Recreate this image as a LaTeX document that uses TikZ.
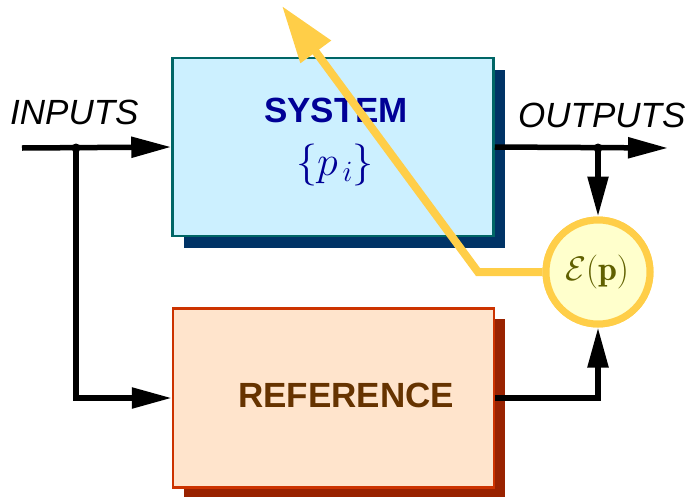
\RequirePackage{fix-cm}
\documentclass[tikz,border=0pt]{standalone}
\usepackage{fontspec}
\newfontfamily\arial{Liberation Sans}
\usetikzlibrary{arrows.meta,shadows}
\definecolor{sysfill}{RGB}{204,240,255}
\definecolor{sysborder}{RGB}{0,102,102}
\definecolor{sysshadow}{RGB}{0,51,102}
\definecolor{systext}{RGB}{0,0,150}
\definecolor{reffill}{RGB}{255,228,204}
\definecolor{refborder}{RGB}{204,51,0}
\definecolor{refshadow}{RGB}{153,34,0}
\definecolor{reftext}{RGB}{102,51,0}
\definecolor{yel}{RGB}{255,206,72}
\definecolor{circfill}{RGB}{255,255,204}
\definecolor{olive}{RGB}{96,96,0}
\begin{document}
\begin{tikzpicture}[x=1pt,y=-1pt,
  blockbox/.style={rectangle, line width=2.5pt, inner sep=0pt},
  sysbox/.style={blockbox, draw=sysborder, fill=sysfill, minimum width=321pt, minimum height=178pt,
    general shadow={fill=sysshadow, shadow xshift=11pt, shadow yshift=-12pt}},
  refbox/.style={blockbox, draw=refborder, fill=reffill, minimum width=321pt, minimum height=179pt,
    general shadow={fill=refshadow, shadow xshift=11pt, shadow yshift=-10pt}},
  sig/.style={line width=5.5pt, -{Triangle[length=40pt,width=20pt]}},
  dot/.style={circle, fill=black, inner sep=0pt, minimum size=9pt},
  lbl/.style={font=\arial\itshape\fontsize{35}{42}\selectfont, inner sep=0pt},
  ttl/.style={font=\arial\bfseries\fontsize{35}{42}\selectfont, inner sep=0pt},
  errnode/.style={circle, draw=yel, fill=circfill, line width=7pt, minimum size=104pt, inner sep=0pt}
]
\useasboundingbox (0,0) rectangle (691,496);
% blocks
\node[sysbox] (sys) at (333,147) {};
\node[refbox] (ref) at (333.5,398) {};
\node[ttl, text=systext, anchor=base] (systitle) at (336,122) {SYSTEM};
\node[text=systext, inner sep=0pt, font=\fontsize{42}{50}\selectfont] (params) at (335,165) {$\{p_{\,i}\}$};
\node[ttl, text=reftext, anchor=base] (reftitle) at (346,407) {REFERENCE};
% labels
\node[lbl, anchor=base west] (inlbl) at (10,124) {INPUTS};
\node[lbl, anchor=base west] (outlbl) at (518,127) {OUTPUTS};
% coordinates
\coordinate (in0) at (22,148);
\coordinate (outend) at (668,148);
\coordinate (ycorner) at (478,272);
\coordinate (ytip) at (282,6);
% error circle
\node[errnode] (err) at (598,272) {};
% yellow feedback
\draw[yel, line width=8pt, -{Triangle[length=57pt,width=36pt]}] (err.west) -- (ycorner) -- (ytip);
\node[errnode] (err2) at (598,272) {};
\node[text=olive, inner sep=0pt, font=\fontsize{34}{40}\selectfont] (errtxt) at (597,272) {$\mathcal{E}(\mathbf{p})$};
% black signals
\node[dot] (j1) at (76,148) {};
\node[dot] (j2) at (598,148) {};
\draw[sig] (in0) -- (sys.west);
\draw[sig] (j1.center) -- (j1 |- ref.west) -- (ref.west);
\draw[sig] (sys.east) -- (outend);
\draw[sig] (j2.center) -- (err2.north);
\draw[sig] (ref.east) -- (err2 |- ref.east) -- (err2.south);
\end{tikzpicture}
\end{document}
